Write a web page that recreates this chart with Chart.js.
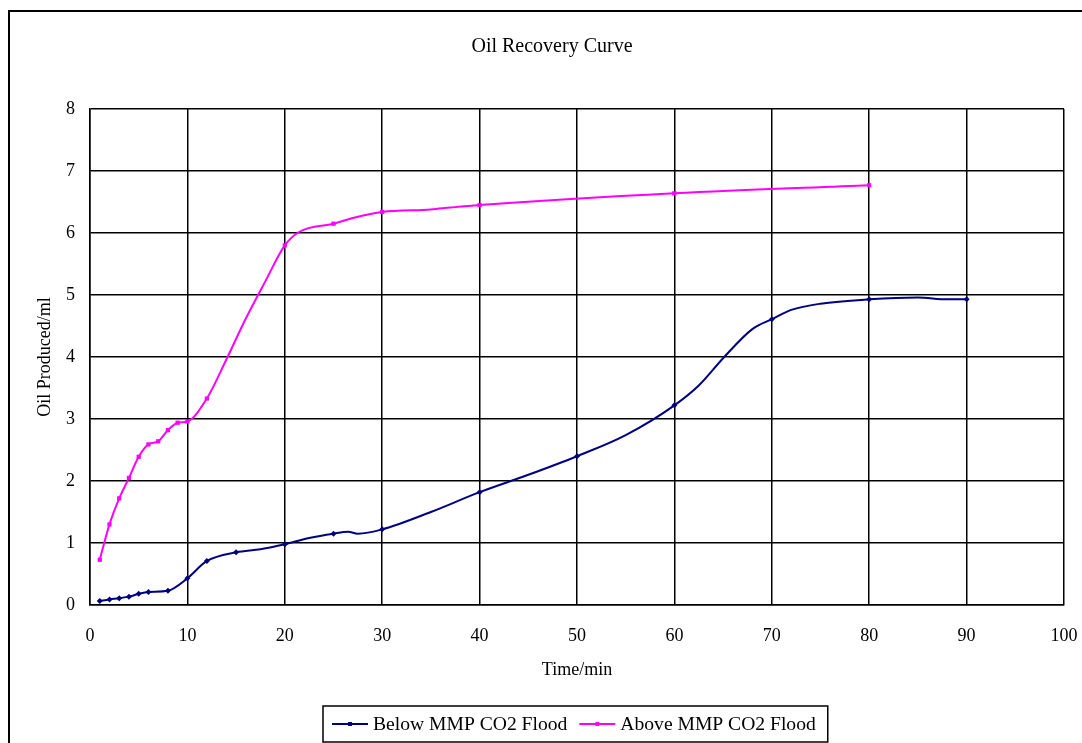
<!DOCTYPE html>
<html>
<head>
<meta charset="utf-8">
<title>Oil Recovery Curve</title>
<script src="https://cdn.jsdelivr.net/npm/chart.js@4/dist/chart.umd.min.js"></script>
<style>
    html, body { margin: 0; padding: 0; background: #fff; }
    #wrap { width: 1082px; height: 743px; position: relative; }
</style>
</head>
<body>
<div id="wrap"><canvas id="myChart"></canvas></div>
<script>
// time (min) and oil produced (ml)
const belowTime = [1, 2, 3, 4, 5, 6, 8, 10, 12, 15, 17.5, 20, 22.5, 25, 26.5, 27.5, 30, 35, 40, 45, 50, 55,
    60, 62.5, 65, 68, 70, 72, 75, 80, 85, 88, 90];
const belowOil = [0.065, 0.09, 0.11, 0.135, 0.18, 0.21, 0.23, 0.43, 0.71, 0.85, 0.90, 0.98, 1.08, 1.15, 1.18, 1.15,
    1.22, 1.50, 1.82, 2.10, 2.40, 2.74, 3.22, 3.54, 3.98, 4.45, 4.61, 4.76, 4.86, 4.93, 4.96, 4.93, 4.93];
const belowMarked = [1, 2, 3, 4, 5, 6, 8, 10, 12, 15, 20, 25, 30, 40, 50, 60, 70, 80, 90];

const aboveTime = [1, 2, 3, 4, 5, 6, 7, 8, 9, 10, 12, 14, 16, 18, 20, 21.5, 25, 27.2, 30, 35, 37, 40, 60, 80];
const aboveOil = [0.73, 1.30, 1.72, 2.05, 2.39, 2.59, 2.64, 2.82, 2.94, 2.96, 3.33, 3.96, 4.62, 5.22, 5.80, 6.02,
    6.15, 6.25, 6.34, 6.38, 6.41, 6.45, 6.64, 6.77];
const aboveMarked = [1, 2, 3, 4, 5, 6, 7, 8, 9, 10, 12, 20, 25, 30, 40, 60, 80];

const seriesNames = ['Below MMP CO2 Flood', 'Above MMP CO2 Flood'];
const xTicks = [0, 10, 20, 30, 40, 50, 60, 70, 80, 90, 100];
const yTicks = [0, 1, 2, 3, 4, 5, 6, 7, 8];

const serif = "'Liberation Serif', 'Times New Roman', serif";
Chart.defaults.font.family = serif;
Chart.defaults.color = '#000';

function toPoints(xs, ys) {
    return xs.map((x, i) => ({x: x, y: ys[i]}));
}

// outer frame of the chart box
const frame = {
    id: 'frame',
    beforeDraw(chart) {
        const c = chart.ctx;
        c.save();
        c.fillStyle = '#fff';
        c.fillRect(0, 0, chart.width, chart.height);
        c.strokeStyle = '#000';
        c.lineWidth = 2;
        c.strokeRect(9, 11, chart.width + 20, chart.height + 20);
        c.restore();
    }
};

// excel style legend in a box under the chart
const boxLegend = {
    id: 'boxLegend',
    afterDraw(chart) {
        const c = chart.ctx;
        const y = 724;
        c.save();
        c.font = '19.6px ' + serif;
        c.textBaseline = 'middle';
        let x = 332;
        chart.data.datasets.forEach((ds) => {
            c.strokeStyle = ds.borderColor;
            c.lineWidth = 2;
            c.beginPath();
            c.moveTo(x, y);
            c.lineTo(x + 36, y);
            c.stroke();
            c.fillStyle = ds.borderColor;
            c.fillRect(x + 16, y - 2, 4, 4);
            x += 41;
            c.fillStyle = '#000';
            c.fillText(ds.label, x, y + 1);
            x += c.measureText(ds.label).width + 12;
        });
        c.strokeStyle = '#000';
        c.lineWidth = 1.5;
        c.strokeRect(323, 706, x - 323, 36);
        c.restore();
    }
};

const ctx = document.getElementById('myChart');
const myChart = new Chart(ctx, {
    type: 'line',
    data: {
        datasets: [{
            label: seriesNames[0],
            data: toPoints(belowTime, belowOil),
            borderColor: '#000080',
            backgroundColor: '#000080',
            borderWidth: 2,
            cubicInterpolationMode: 'monotone',
            pointStyle: 'rectRot',
            pointRadius: (c) => belowMarked.includes(c.raw && c.raw.x) ? 3 : 0,
            pointBorderWidth: 0,
            fill: false
        }, {
            label: seriesNames[1],
            data: toPoints(aboveTime, aboveOil),
            borderColor: '#ff00ff',
            backgroundColor: '#ff00ff',
            borderWidth: 2,
            cubicInterpolationMode: 'monotone',
            pointStyle: 'rect',
            pointRadius: (c) => aboveMarked.includes(c.raw && c.raw.x) ? 3 : 0,
            pointBorderWidth: 0,
            fill: false
        }]
    },
    options: {
        responsive: true,
        maintainAspectRatio: false,
        animation: false,
        devicePixelRatio: 1,
        layout: {padding: {top: 0, left: 22, right: 0, bottom: 53}},
        scales: {
            x: {
                type: 'linear',
                min: 0,
                max: 100,
                afterBuildTicks: (s) => { s.ticks = xTicks.map(v => ({value: v})); },
                afterFit: (s) => { s.height = 85; s.paddingLeft = 0; s.paddingRight = 18; },
                ticks: {padding: 20, font: {size: 18}, color: '#000'},
                grid: {color: '#000', lineWidth: 1.5, drawTicks: false},
                border: {color: '#000', width: 1.5},
                title: {display: true, text: 'Time/min', font: {size: 18}, color: '#000', padding: {top: 0, bottom: 9}}
            },
            y: {
                min: 0,
                max: 8,
                afterBuildTicks: (s) => { s.ticks = yTicks.map(v => ({value: v})); },
                afterFit: (s) => { s.width = 68; },
                ticks: {padding: 15, font: {size: 18}, color: '#000'},
                grid: {color: '#000', lineWidth: 1.5, drawTicks: false},
                border: {color: '#000', width: 1.5},
                title: {display: true, text: 'Oil Produced/ml', font: {size: 18}, color: '#000', padding: {top: 12, bottom: 0}}
            }
        },
        plugins: {
            legend: {display: false},
            tooltip: {enabled: false},
            title: {
                display: true,
                text: 'Oil Recovery Curve',
                color: '#000',
                font: {size: 20, weight: 'normal'},
                padding: {top: 35, bottom: 50}
            }
        }
    },
    plugins: [frame, boxLegend]
});
</script>
</body>
</html>
